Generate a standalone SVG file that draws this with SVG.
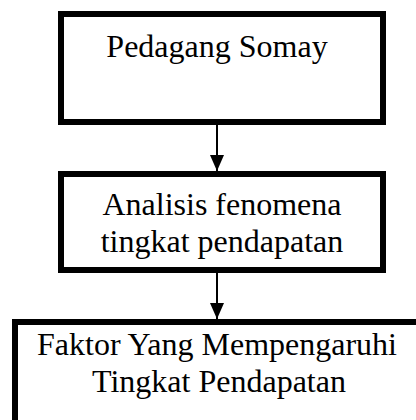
<svg xmlns="http://www.w3.org/2000/svg" width="416" height="420" viewBox="0 0 416 420">
<defs>
<style>
.box{fill:#fff;stroke:#000;stroke-width:6}
.lbl{font-family:"Liberation Serif","Times New Roman",serif;font-size:32px;fill:#000;text-anchor:middle}
.conn{stroke:#000;stroke-width:2;fill:none}
</style>
<marker id="ah" markerUnits="userSpaceOnUse" markerWidth="16" markerHeight="14" refX="16" refY="7" orient="auto" viewBox="0 0 16 14">
<path d="M0,0 L16,7 L0,14 Z" fill="#000"/>
</marker>
</defs>
<rect width="416" height="420" fill="#fff"/>
<g id="node1">
<rect class="box" x="61" y="14" width="322" height="108"/>
<text class="lbl" x="217" y="57">Pedagang Somay</text>
</g>
<g id="node2">
<rect class="box" x="61" y="174" width="322" height="96"/>
<text class="lbl" x="222" y="215">Analisis fenomena</text>
<text class="lbl" x="222" y="252">tingkat pendapatan</text>
</g>
<g id="node3">
<rect class="box" x="15" y="322" width="420" height="120"/>
<text class="lbl" x="217" y="355">Faktor Yang Mempengaruhi</text>
<text class="lbl" x="219" y="392">Tingkat Pendapatan</text>
</g>
<g id="connectors">
<line class="conn" x1="217" y1="125" x2="217" y2="171" marker-end="url(#ah)"/>
<line class="conn" x1="217" y1="273" x2="217" y2="319" marker-end="url(#ah)"/>
</g>
</svg>
